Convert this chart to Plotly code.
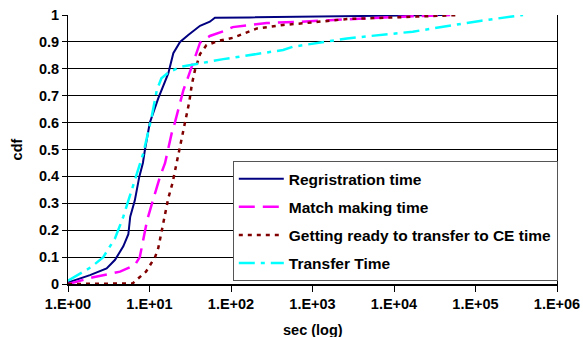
import plotly.graph_objects as go

# ---- data ----
reg_x = [1, 1.86, 2.98, 3.78, 4.77, 5.5, 5.8, 6.6, 7.5, 8.3, 8.8, 10.1, 12.8, 17, 19.6, 23.7, 29.9, 41.7, 55, 63.5, 170, 1000, 10000, 40000]
reg_y = [0.005, 0.033, 0.058, 0.09, 0.14, 0.185, 0.25, 0.31, 0.399, 0.45, 0.5, 0.6, 0.69, 0.783, 0.858, 0.9, 0.926, 0.96, 0.975, 0.99, 0.991, 0.994, 0.998, 1.0]

match_x = [1, 2.04, 4.35, 6.6, 7.6, 8.2, 9.4, 11.5, 13.5, 15.5, 18.7, 20.6, 23.2, 26, 29.9, 36.2, 41.7, 55, 88.5, 105, 275, 700, 1170, 4200, 17000, 49000]
match_y = [0, 0.025, 0.046, 0.07, 0.1, 0.15, 0.24, 0.33, 0.4, 0.449, 0.56, 0.603, 0.659, 0.72, 0.771, 0.839, 0.897, 0.922, 0.944, 0.955, 0.97, 0.975, 0.979, 0.987, 0.995, 1.0]

ready_x = [1, 6.2, 9.06, 11.7, 12.8, 14.5, 17, 19.1, 21.6, 24.4, 27.3, 30.8, 33, 36.2, 41.7, 50, 73, 105, 209, 436, 760, 2650, 19000, 63000]
ready_y = [0, 0.002, 0.046, 0.1, 0.133, 0.22, 0.319, 0.374, 0.449, 0.529, 0.603, 0.678, 0.74, 0.796, 0.855, 0.888, 0.905, 0.915, 0.95, 0.963, 0.969, 0.985, 0.994, 1.0]

trans_x = [1, 1.95, 2.71, 3.78, 4.77, 6.0, 7.0, 8.4, 10.6, 12.3, 14, 17.5, 24.8, 40, 80.5, 436, 575, 2650, 17000, 113000, 383000]
trans_y = [0.012, 0.064, 0.10, 0.17, 0.25, 0.345, 0.41, 0.486, 0.62, 0.721, 0.765, 0.789, 0.808, 0.82, 0.836, 0.87, 0.882, 0.913, 0.938, 0.978, 1.0]

series_names = ["Regristration time", "Match making time",
                "Getting ready to transfer to CE time", "Transfer Time"]

x_tickvals = [1, 10, 100, 1000, 10000, 100000, 1000000]
x_ticktext = ["1.E+00", "1.E+01", "1.E+02", "1.E+03", "1.E+04", "1.E+05", "1.E+06"]
y_tickvals = [0, 0.1, 0.2, 0.3, 0.4, 0.5, 0.6, 0.7, 0.8, 0.9, 1]
y_ticktext = ["0", "0.1", "0.2", "0.3", "0.4", "0.5", "0.6", "0.7", "0.8", "0.9", "1"]

FONT = "Arial, Liberation Sans, sans-serif"

fig = go.Figure()
styles = [
    dict(color="#000080", width=2, dash="solid"),
    dict(color="#FF00FF", width=2.5, dash="16px,8px"),
    dict(color="#800000", width=2.5, dash="4px,5px"),
    dict(color="#00FFFF", width=2.5, dash="16px,6px,4px,6px"),
]
data = [(reg_x, reg_y), (match_x, match_y), (ready_x, ready_y), (trans_x, trans_y)]
for i, ((xs, ys), name, st) in enumerate(zip(data, series_names, styles)):
    fig.add_trace(go.Scatter(x=xs, y=ys, mode="lines", name=name, line=st,
                             legendgroup=f"g{i}"))

fig.update_layout(
    width=583, height=337,
    margin=dict(l=68, r=26, t=15, b=53),
    paper_bgcolor="white", plot_bgcolor="white",
    font=dict(family=FONT, size=14.5, color="black", weight="bold"),
    showlegend=True,
    legend=dict(x=0.337, y=0.457, xanchor="left", yanchor="top",
                bordercolor="#555555", borderwidth=1, bgcolor="white",
                font=dict(family=FONT, size=15.5, color="black", weight="bold"),
                tracegroupgap=5, itemwidth=45),
    annotations=[dict(text="sec (log)", xref="paper", yref="paper",
                      x=0.5, y=-0.172, xanchor="center", yanchor="middle",
                      showarrow=False,
                      font=dict(family=FONT, size=14.5, color="black", weight="bold"))],
)
fig.update_xaxes(
    type="log", range=[0, 6], automargin=False,
    tickvals=x_tickvals, ticktext=x_ticktext,
    showgrid=False, showline=True, linecolor="black", linewidth=2,
    ticks="outside", ticklen=6, tickcolor="black", tickwidth=1,
    zeroline=False,
)
fig.update_yaxes(
    range=[0, 1], tickvals=y_tickvals, ticktext=y_ticktext, automargin=False,
    showgrid=True, gridcolor="black", gridwidth=1,
    showline=True, linecolor="black", linewidth=1, mirror=True,
    ticks="outside", ticklen=5, tickcolor="black",
    title=dict(text="cdf", font=dict(family=FONT, size=14.5, weight="bold"), standoff=12),
    zeroline=False,
)

fig.write_html("out.html")
